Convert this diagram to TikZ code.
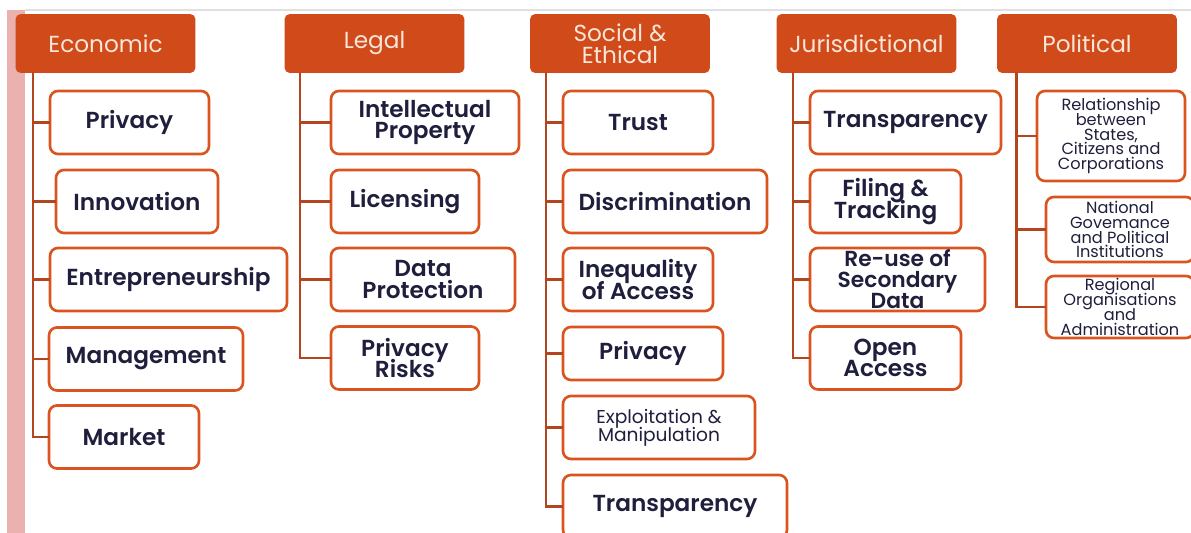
\documentclass[tikz,border=0pt]{standalone}
\usepackage{fontspec}
\setmainfont{Poppins}[BoldFont={Poppins SemiBold}]
\definecolor{headfill}{HTML}{D04A1A}
\definecolor{boxline}{HTML}{D9541F}
\definecolor{branchcol}{HTML}{B4461F}
\definecolor{inktext}{HTML}{1F1F3D}
\definecolor{headtext}{HTML}{FBE6DA}
\definecolor{stripcol}{HTML}{EBB1AF}
% keep the fixed line pitch in the boxes
\setlength{\lineskiplimit}{-8pt}

\begin{document}
\begin{tikzpicture}[x=0.02cm,y=-0.02cm]
\tikzset{
  headnode/.style={rectangle,rounded corners=3pt,fill=headfill,draw=none,minimum width=3.6cm,minimum height=1.18cm,
    align=center,text=headtext,font=\fontsize{13.2}{12.4}\selectfont,inner sep=1pt},
  itemnode/.style={rectangle,rounded corners=4.5pt,fill=white,draw=boxline,line width=1.5pt,minimum height=1.26cm,
    align=center,text=inktext,font=\bfseries\fontsize{13.2}{12.2}\selectfont,inner sep=1pt},
  tightitem/.style={itemnode,inner sep=0pt,font=\bfseries\fontsize{12.4}{12}\selectfont},
  smallitem/.style={itemnode,font=\fontsize{9.2}{8.5}\selectfont},
  bigsmall/.style={itemnode,font=\fontsize{10.6}{10.4}\selectfont},
  branch/.style={draw=branchcol,line width=1.7pt,line cap=rect}
}
\useasboundingbox (0,0) rectangle (1191,533);
% page edge left over from the slide
\fill[stripcol] (7,10) rectangle (25,533);
\draw[black!12,line width=1pt] (25,10) -- (1191,10);

% column heads
\node[headnode] (h_eco) at (105.5,43.5) {Economic};
\node[headnode] (h_leg) at (374.5,43.5) {Legal};
\node[headnode] (h_soc) at (620,43.5) {Social \&\\Ethical};
\node[headnode] (h_jur) at (866.5,43.5) {Jurisdictional};
\node[headnode] (h_pol) at (1087,43.5) {Political};

% economic
\node[itemnode,minimum width=3.18cm] (n_e1) at (129.5,122.5) {Privacy};
\node[itemnode,minimum width=3.24cm] (n_e2) at (137,201.5) {Innovation};
\node[itemnode,minimum width=4.74cm] (n_e3) at (168.5,279.5) {Entrepreneurship};
\node[itemnode,minimum width=3.88cm] (n_e4) at (146,359) {Management};
\node[itemnode,minimum width=3.00cm] (n_e5) at (124,437) {Market};

% legal
\node[itemnode,minimum width=3.76cm] (n_l1) at (425,122.5) {Intellectual\\Property};
\node[itemnode,minimum width=2.96cm] (n_l2) at (405,201.5) {Licensing};
\node[itemnode,minimum width=3.68cm] (n_l3) at (423,279.5) {Data\\Protection};
\node[itemnode,minimum width=2.96cm] (n_l4) at (405,358) {Privacy\\Risks};

% social and ethical
\node[itemnode,minimum width=3.00cm] (n_s1) at (638,122.5) {Trust};
\node[itemnode,minimum width=4.08cm] (n_s2) at (665,201.5) {Discrimination};
\node[itemnode,minimum width=3.00cm] (n_s3) at (638,279.5) {Inequality\\of Access};
\node[itemnode,minimum width=3.20cm,minimum height=1.06cm] (n_s4) at (643,353.5) {Privacy};
\node[bigsmall,minimum width=3.84cm] (n_s5) at (659,427.5) {Exploitation \&\\Manipulation};
\node[itemnode,minimum width=4.48cm] (n_s6) at (675,506.5) {Transparency};

% jurisdictional
\node[itemnode,minimum width=3.82cm] (n_j1) at (905.5,122.5) {Transparency};
\node[itemnode,minimum width=3.02cm] (n_j2) at (885.5,201.5) {Filing \&\\Tracking};
\node[tightitem,minimum width=3.50cm] (n_j3) at (897.5,279.5) {Re-use of\\Secondary\\Data};
\node[itemnode,minimum width=3.02cm] (n_j4) at (885.5,358) {Open\\Access};

% political
\node[smallitem,minimum width=2.96cm,minimum height=1.80cm] (n_p1) at (1111,136) {Relationship\\between\\States,\\Citizens and\\Corporations};
\node[smallitem,minimum width=2.96cm,minimum height=1.30cm] (n_p2) at (1120,229.5) {National\\Govemance\\and Political\\Institutions};
\node[smallitem,minimum width=2.96cm,minimum height=1.24cm] (n_p3) at (1120,307) {Regional\\Organisations\\and\\Administration};

% spines under the heads
\coordinate (s_eco) at (33,73);
\coordinate (s_leg) at (300,73);
\coordinate (s_soc) at (546,73);
\coordinate (s_jur) at (793,73);
\coordinate (s_pol) at (1016,73);

\draw[branch] (s_eco) |- (n_e1.west);
\draw[branch] (s_eco) |- (n_e2.west);
\draw[branch] (s_eco) |- (n_e3.west);
\draw[branch] (s_eco) |- (n_e4.west);
\draw[branch] (s_eco) |- (n_e5.west);
\draw[branch] (s_leg) |- (n_l1.west);
\draw[branch] (s_leg) |- (n_l2.west);
\draw[branch] (s_leg) |- (n_l3.west);
\draw[branch] (s_leg) |- (n_l4.west);
\draw[branch] (s_soc) |- (n_s1.west);
\draw[branch] (s_soc) |- (n_s2.west);
\draw[branch] (s_soc) |- (n_s3.west);
\draw[branch] (s_soc) |- (n_s4.west);
\draw[branch] (s_soc) |- (n_s5.west);
\draw[branch] (s_soc) |- (n_s6.west);
\draw[branch] (s_jur) |- (n_j1.west);
\draw[branch] (s_jur) |- (n_j2.west);
\draw[branch] (s_jur) |- (n_j3.west);
\draw[branch] (s_jur) |- (n_j4.west);
\draw[branch] (s_pol) |- (n_p1.west);
\draw[branch] (s_pol) |- (n_p2.west);
\draw[branch] (s_pol) |- (n_p3.west);
\end{tikzpicture}
\end{document}
